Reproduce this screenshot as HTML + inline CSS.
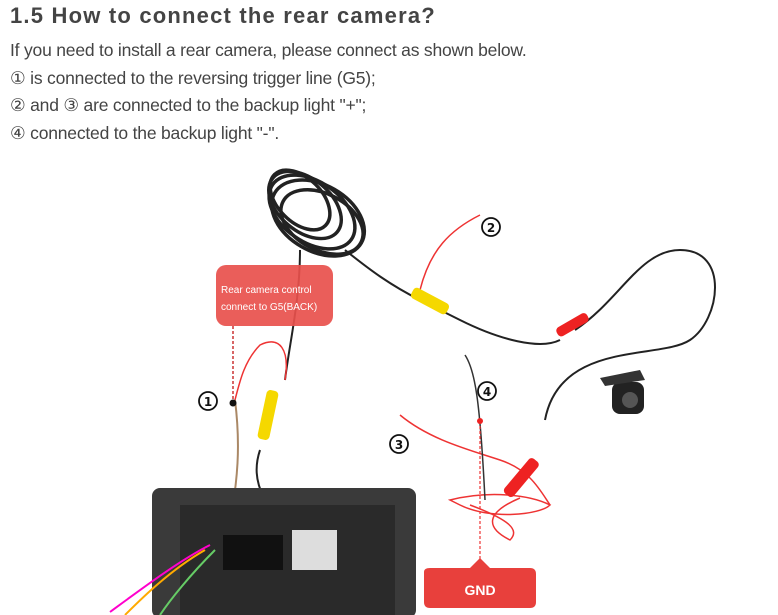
<!DOCTYPE html>
<html><head><style>
body{margin:0;width:778px;height:615px;overflow:hidden;background:#fff;font-family:"Liberation Sans",sans-serif;position:relative}
h1{position:absolute;left:10px;top:3px;margin:0;font-size:22px;font-weight:bold;color:#444;letter-spacing:1.2px}
.t{position:absolute;left:10px;font-size:17.5px;color:#444;margin:0;letter-spacing:-0.2px}
svg{position:absolute;left:0;top:0}
</style></head><body>
<h1>1.5 How to connect the rear camera?</h1>
<p class="t" style="top:40px">If you need to install a rear camera, please connect as shown below.</p>
<p class="t" style="top:68px">① is connected to the reversing trigger line (G5);</p>
<p class="t" style="top:95px">② and ③ are connected to the backup light "+";</p>
<p class="t" style="top:123px">④ connected to the backup light "-".</p>
<svg width="778" height="615">
<g fill="none" stroke="#222" stroke-width="3.5">
<ellipse cx="312" cy="212" rx="48" ry="30" transform="rotate(35 312 212)"/>
<ellipse cx="305" cy="205" rx="42" ry="26" transform="rotate(40 305 205)"/>
<ellipse cx="318" cy="218" rx="50" ry="33" transform="rotate(30 318 218)"/>
<ellipse cx="300" cy="200" rx="36" ry="22" transform="rotate(45 300 200)"/>
<ellipse cx="322" cy="222" rx="44" ry="28" transform="rotate(28 322 222)"/>
</g>
<g fill="none" stroke="#222" stroke-width="2">
<path d="M345 250 C370 270 390 285 420 300 L460 320 C500 340 540 350 560 340"/>
<path d="M575 330 C620 300 640 250 680 250 C730 250 720 320 690 340 C660 360 560 340 545 420"/>
<path d="M300 250 C300 300 290 340 285 380"/>
<path d="M260 450 C250 480 260 510 320 560"/>
</g>
<g fill="none" stroke="#e33" stroke-width="1.5">
<path d="M420 290 C430 250 450 230 480 215"/>
<path d="M285 380 C290 350 280 335 260 345 C245 360 240 380 235 400"/>
<path d="M400 415 C430 440 470 450 500 460 C530 470 540 490 550 505"/>
<path d="M450 500 C490 490 530 495 550 505 C540 515 490 520 460 505 Z"/>
<path d="M470 505 C510 520 520 530 510 540 C490 530 480 515 520 498"/>
</g>
<path d="M465 355 C475 370 480 400 485 500" stroke="#333" stroke-width="1.5" fill="none"/>
<path d="M235 400 C240 440 240 480 225 545" stroke="#a86" stroke-width="2" fill="none"/>
<rect x="410" y="295" width="40" height="12" rx="4" fill="#f5d800" transform="rotate(28 430 301)"/>
<rect x="262" y="390" width="12" height="50" rx="4" fill="#f5d800" transform="rotate(12 268 415)"/>
<rect x="555" y="320" width="35" height="10" rx="4" fill="#e22" transform="rotate(-30 572 325)"/>
<rect x="515" y="455" width="12" height="45" rx="4" fill="#e22" transform="rotate(40 521 478)"/>
<rect x="612" y="382" width="32" height="32" rx="8" fill="#222"/>
<circle cx="630" cy="400" r="8" fill="#555"/>
<path d="M600 378 L640 370 L645 380 L605 386Z" fill="#333"/>
<rect x="152" y="488" width="264" height="130" rx="8" fill="#3a3a3a"/>
<rect x="180" y="505" width="215" height="110" fill="#2a2a2a"/>
<rect x="223" y="535" width="60" height="35" fill="#111"/>
<rect x="292" y="530" width="45" height="40" fill="#ddd"/>
<g fill="none" stroke-width="2"><path d="M210 545 C180 560 140 590 110 612" stroke="#f0c"/><path d="M205 550 C170 570 140 600 125 615" stroke="#fa0"/><path d="M215 550 C190 575 170 600 160 615" stroke="#6c6"/></g>
<rect x="216" y="265" width="117" height="61" rx="10" fill="#e8504c" opacity="0.92"/>
<text x="221" y="293" fill="#fff" font-size="10">Rear camera control</text>
<text x="221" y="310" fill="#fff" font-size="10">connect to G5(BACK)</text>
<line x1="233" y1="326" x2="233" y2="403" stroke="#c33" stroke-width="1.5" stroke-dasharray="3,2"/>
<circle cx="233" cy="403" r="3.5" fill="#111"/>
<line x1="480" y1="421" x2="480" y2="568" stroke="#e33" stroke-width="1.2" stroke-dasharray="3,2"/>
<circle cx="480" cy="421" r="3" fill="#e22"/>
<path d="M424 572 Q424 568 430 568 L470 568 L480 558 L490 568 L530 568 Q536 568 536 574 L536 602 Q536 608 530 608 L430 608 Q424 608 424 602Z" fill="#e8403c"/>
<text x="480" y="595" fill="#fff" font-size="14" font-weight="bold" text-anchor="middle">GND</text>
<g font-weight="bold" fill="#111" font-family="DejaVu Sans,sans-serif" text-anchor="middle">
<circle cx="491" cy="227" r="9" fill="#fff" stroke="#111" stroke-width="1.8"/><text x="491" y="232" font-size="12">2</text>
<circle cx="208" cy="401" r="9" fill="#fff" stroke="#111" stroke-width="1.8"/><text x="208" y="406" font-size="12">1</text>
<circle cx="487" cy="391" r="9" fill="#fff" stroke="#111" stroke-width="1.8"/><text x="487" y="396" font-size="12">4</text>
<circle cx="399" cy="444" r="9" fill="#fff" stroke="#111" stroke-width="1.8"/><text x="399" y="449" font-size="12">3</text>
</g>
</svg>
</body></html>
